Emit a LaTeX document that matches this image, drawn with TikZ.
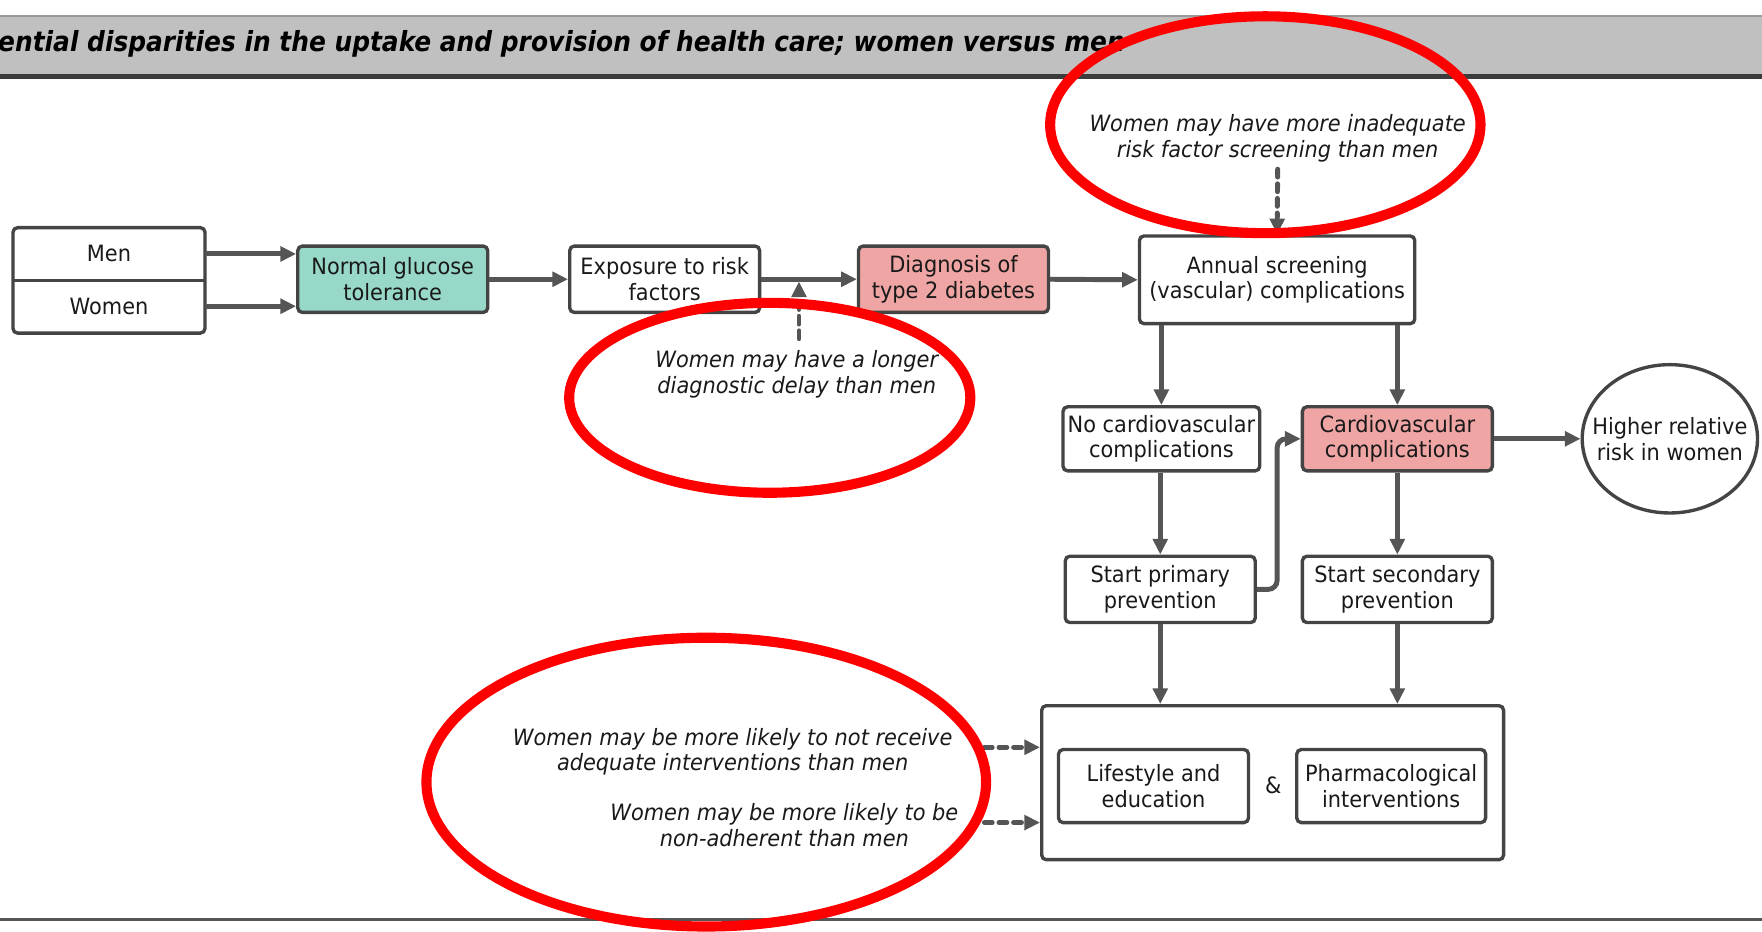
\documentclass[tikz,border=0pt]{standalone}
\usepackage{fontspec}
\setmainfont{DejaVu Sans}[FakeStretch=0.93]
\newfontfamily\titlefont{DejaVu Sans}[FakeStretch=0.9]
\usetikzlibrary{arrows.meta, shapes.geometric}
\definecolor{boxc}{HTML}{444444}
\definecolor{linec}{HTML}{555555}
\definecolor{tealc}{HTML}{98D8C8}
\definecolor{pinkc}{HTML}{F0A5A5}
\definecolor{bandc}{HTML}{C0C0C0}
\definecolor{bandd}{HTML}{3C3C3C}
\begin{document}
\begin{tikzpicture}[x=0.5pt,y=-0.5pt,
  box/.style={draw=boxc, line width=1.5pt, rounded corners=2pt, fill=white, align=center, inner sep=0pt, font=\fontsize{10}{11.5}\selectfont, text=black!90},
  plain/.style={align=center, inner sep=0pt, font=\fontsize{10}{11.5}\selectfont, text=black!90},
  arr/.style={draw=linec, line width=2.2pt, -{Triangle[length=7pt,width=6.5pt]}},
  dasharr/.style={arr, dash pattern=on 3.5pt off 3pt, line cap=round},
  note/.style={align=center, inner sep=0pt, font=\fontsize{10}{11.5}\selectfont\itshape, text=black!90},
  redring/.style={draw=red, line width=4.5pt}
]
\useasboundingbox (0,0) rectangle (1568,829);
% header band
\fill[bandc] (0,14) rectangle (1568,66);
\draw[gray!80, line width=0.8pt] (0,14.5) -- (1568,14.5);
\fill[bandd] (0,66) rectangle (1568,70);
\node[anchor=base west, inner sep=0pt, font=\titlefont\bfseries\itshape\fontsize{12.3}{14}\selectfont] (title) at (-2,46) {ential disparities in the uptake and provision of health care; women versus men};
% bottom rule
\draw[linec, line width=1.5pt] (0,818) -- (1568,818);

% Men / Women
\node[plain, minimum width=85pt, minimum height=23pt] (men) at (97,226) {Men};
\node[plain, minimum width=85pt, minimum height=23.5pt] (women) at (97,272.5) {Women};
\draw[boxc, line width=1.5pt, rounded corners=2pt] (men.north west) rectangle (women.south east);
\draw[boxc, line width=1.5pt] (men.south west) -- (men.south east);

% main row
\node[box, fill=tealc, minimum width=84.5pt, minimum height=29.5pt] (ngt) at (349.5,248.5) {Normal glucose\\tolerance};
\node[box, minimum width=84.5pt, minimum height=29.5pt] (exp) at (591.5,248.5) {Exposure to risk\\factors};
\node[box, fill=pinkc, minimum width=84.5pt, minimum height=29.5pt] (diag) at (848.5,248.5) {Diagnosis of\\type 2 diabetes};
\node[box, minimum width=122.5pt, minimum height=39pt] (annual) at (1136.5,249) {Annual screening\\(vascular) complications};

\node[box, minimum width=87.5pt, minimum height=28.5pt] (nocv) at (1033.5,390.5) {No cardiovascular\\complications};
\node[box, fill=pinkc, minimum width=84.5pt, minimum height=28.5pt] (cv) at (1243.5,390.5) {Cardiovascular\\complications};
\node[draw=boxc, line width=1.5pt, ellipse, minimum width=78pt, minimum height=66pt, inner sep=0pt] (higher) at (1486,390.5) {};
\node[plain] (highertxt) at (higher.center) {Higher relative\\risk in women};

\node[box, minimum width=84.5pt, minimum height=29.5pt] (prim) at (1032.5,524.5) {Start primary\\prevention};
\node[box, minimum width=84.5pt, minimum height=29.5pt] (sec) at (1243.5,524.5) {Start secondary\\prevention};

\node[box, minimum width=205.5pt, minimum height=68.5pt] (big) at (1132.5,696.5) {};
\node[box, minimum width=84.5pt, minimum height=32.5pt] (life) at (1026.5,699.5) {Lifestyle and\\education};
\node[box, minimum width=84pt, minimum height=32.5pt] (pharm) at (1238,699.5) {Pharmacological\\interventions};
\node[plain] (amp) at (1133,699) {\&};

% notes
\node[note] (scr) at (1137,123) {Women may have more inadequate\\risk factor screening than men};
\node[note] (delay) at (709,333) {Women may have a longer\\diagnostic delay than men};
\node[note] (interv) at (652,669) {Women may be more likely to not receive\\adequate interventions than men};
\node[note] (adher) at (698,734) {Women may be more likely to be\\non-adherent than men};

% connectors
\draw[arr] (men.east) -- (men.east -| ngt.west);
\draw[arr] (women.east) -- (women.east -| ngt.west);
\draw[arr] (ngt.east) -- (exp.west);
\draw[arr] (exp.east) -- (diag.west);
\draw[arr] (diag.east) -- (annual.west);
\draw[arr] (annual.south -| nocv.north) -- (nocv.north);
\draw[arr] (annual.south -| cv.north) -- (cv.north);
\draw[arr] (cv.east) -- (cv.east -| higher.west);
\draw[arr] (nocv.south -| prim.north) -- (prim.north);
\draw[arr] (cv.south) -- (sec.north);
\draw[arr, rounded corners=4pt] (prim.east) -- ++(18,0) |- (cv.west);
\draw[arr] (prim.south) -- (prim.south |- big.north);
\draw[arr] (sec.south) -- (sec.south |- big.north);

\draw[dasharr, shorten >=1pt] ([xshift=1pt,yshift=5pt]delay.north) -- ([xshift=1pt]delay.north |- exp.east);
\draw[dasharr] ([yshift=-3pt]scr.south) -- (annual.north);
\coordinate (d1) at (876,665);
\coordinate (d2) at (876,732);
\draw[dasharr] (d1) -- (d1 -| big.west);
\draw[dasharr] (d2) -- (d2 -| big.west);

% red rings
\draw[redring] (1126,111) ellipse [x radius=95.75pt, y radius=48.25pt];
\draw[redring] (685,354) ellipse [x radius=89.25pt, y radius=42.25pt];
\draw[redring] (628.5,696) ellipse [x radius=124.5pt, y radius=64.25pt];
\end{tikzpicture}
\end{document}
